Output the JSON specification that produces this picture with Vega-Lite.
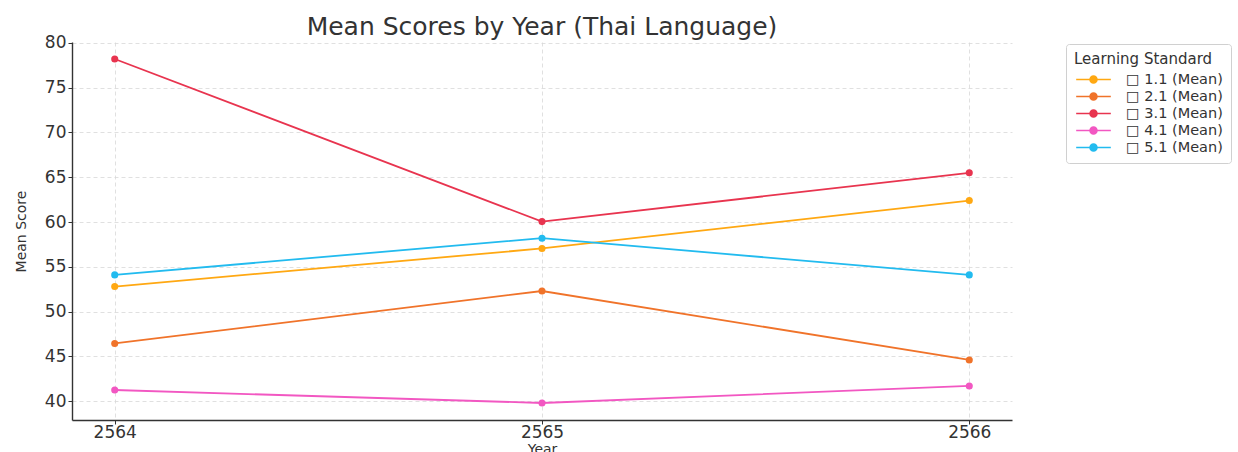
{
  "$schema": "https://vega.github.io/schema/vega-lite/v6.json",
  "autosize": {"type": "none"},
  "width": 940,
  "height": 378,
  "padding": {"left": 72, "top": 42, "right": 226, "bottom": 32},
  "background": "white",
  "config": {
    "font": "DejaVu Sans",
    "view": {"stroke": null},
    "axis": {
      "labelFont": "DejaVu Sans",
      "titleFont": "DejaVu Sans",
      "titleFontWeight": "normal",
      "labelColor": "#333",
      "titleColor": "#333",
      "domainColor": "#333",
      "domainWidth": 1.4,
      "tickColor": "#333",
      "tickSize": 4,
      "gridColor": "#d8d8d8",
      "gridDash": [4, 3],
      "gridWidth": 0.8
    }
  },
  "title": {
    "text": "Mean Scores by Year (Thai Language)",
    "font": "DejaVu Sans",
    "fontSize": 25,
    "fontWeight": "normal",
    "color": "#333",
    "anchor": "middle",
    "offset": -6
  },
  "data": {
    "values": [
      {"year": 2564, "series": "□ 1.1 (Mean)", "score": 52.8},
      {"year": 2565, "series": "□ 1.1 (Mean)", "score": 57.05},
      {"year": 2566, "series": "□ 1.1 (Mean)", "score": 62.4},
      {"year": 2564, "series": "□ 2.1 (Mean)", "score": 46.45},
      {"year": 2565, "series": "□ 2.1 (Mean)", "score": 52.3},
      {"year": 2566, "series": "□ 2.1 (Mean)", "score": 44.6},
      {"year": 2564, "series": "□ 3.1 (Mean)", "score": 78.2},
      {"year": 2565, "series": "□ 3.1 (Mean)", "score": 60.05},
      {"year": 2566, "series": "□ 3.1 (Mean)", "score": 65.5},
      {"year": 2564, "series": "□ 4.1 (Mean)", "score": 41.25},
      {"year": 2565, "series": "□ 4.1 (Mean)", "score": 39.8},
      {"year": 2566, "series": "□ 4.1 (Mean)", "score": 41.7},
      {"year": 2564, "series": "□ 5.1 (Mean)", "score": 54.1},
      {"year": 2565, "series": "□ 5.1 (Mean)", "score": 58.2},
      {"year": 2566, "series": "□ 5.1 (Mean)", "score": 54.1}
    ]
  },
  "encoding": {
    "x": {
      "field": "year",
      "type": "quantitative",
      "scale": {"domain": [2563.9, 2566.1], "nice": false, "zero": false},
      "axis": {
        "values": [2564, 2565, 2566],
        "format": "d",
        "title": "Year",
        "labelFontSize": 17,
        "titleFontSize": 14,
        "titlePadding": 2,
        "grid": true,
        "labelPadding": 0
      }
    },
    "y": {
      "field": "score",
      "type": "quantitative",
      "scale": {"domain": [37.9, 80.1], "nice": false, "zero": false},
      "axis": {
        "values": [40, 45, 50, 55, 60, 65, 70, 75, 80],
        "title": "Mean Score",
        "labelFontSize": 17,
        "titleFontSize": 14,
        "titlePadding": 16,
        "grid": true
      }
    },
    "color": {
      "field": "series",
      "type": "nominal",
      "scale": {
        "domain": ["□ 1.1 (Mean)", "□ 2.1 (Mean)", "□ 3.1 (Mean)", "□ 4.1 (Mean)", "□ 5.1 (Mean)"],
        "range": ["#ffa812", "#f0732a", "#e8344f", "#f257c2", "#22bbef"]
      },
      "legend": {
        "title": "Learning Standard",
        "orient": "none",
        "legendX": 994,
        "legendY": 2,
        "titleFont": "DejaVu Sans",
        "titleFontWeight": "normal",
        "titleFontSize": 15,
        "titleColor": "#333",
        "titlePadding": 3,
        "labelFont": "DejaVu Sans",
        "labelFontSize": 14.5,
        "labelColor": "#333",
        "strokeColor": "#d0d0d0",
        "cornerRadius": 3,
        "padding": 8,
        "rowPadding": 0,
        "symbolType": "M-2,0H2M0.4,0A0.4,0.4,0,1,1,-0.4,0A0.4,0.4,0,1,1,0.4,0Z",
        "symbolSize": 300,
        "symbolOffset": 10,
        "symbolStrokeWidth": 1.6,
        "labelOffset": 23,
        "encode": {
          "symbols": {"update": {"fill": {"scale": "color", "field": "value"}, "fillOpacity": {"value": 1}}}
        }
      }
    }
  },
  "layer": [
    {"mark": {"type": "line", "strokeWidth": 1.8}},
    {"mark": {"type": "point", "filled": true, "opacity": 1, "size": 50, "shape": "circle"}}
  ]
}
